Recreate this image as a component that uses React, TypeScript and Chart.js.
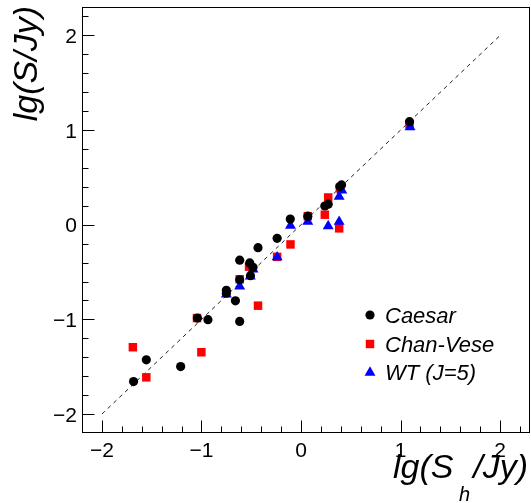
import React, { useEffect, useRef } from "react";
import { Chart, registerables } from "chart.js";

Chart.register(...registerables);

const caesarX = [-1.682, -1.554, -1.209, -1.041, -0.935, -0.616, -0.659, -0.75, -0.75, -0.616, -0.508, -0.616, -0.515, -0.482, -0.432, -0.24, -0.108, 0.068, 0.239, 0.273, 0.39, 0.407, 1.09];
const caesarY = [-1.657, -1.427, -1.498, -0.986, -1.003, -1.021, -0.804, -0.692, -0.724, -0.581, -0.539, -0.374, -0.403, -0.449, -0.242, -0.144, 0.06, 0.09, 0.198, 0.217, 0.403, 0.421, 1.089];

const chanX = [-1.689, -1.554, -1.001, -1.045, -0.432, -0.616, -0.522, -0.24, -0.106, 0.068, 0.239, 0.273, 0.383, 0.39, 1.09];
const chanY = [-1.294, -1.612, -1.347, -0.986, -0.855, -0.576, -0.443, -0.339, -0.208, 0.09, 0.106, 0.288, -0.038, 0.386, 1.063];

const wtX = [-0.75, -0.616, -0.51, -0.482, -0.24, -0.106, 0.068, 0.273, 0.383, 0.383, 0.41, 1.095];
const wtY = [-0.735, -0.65, -0.544, -0.47, -0.343, -0.008, 0.034, -0.014, 0.032, 0.297, 0.363, 1.031];

const diagX = [-2, 2];
const diagY = [-2, 2];

const xTickValues = [-2, -1, 0, 1, 2];
const yTickValues = [-2, -1, 0, 1, 2];
const tickText = (v: number) => (v < 0 ? "\u2212" + Math.abs(v) : String(v));

const legendItems = ["Caesar", "Chan-Vese", "WT (J=5)"];

const zip = (xs: number[], ys: number[]) => xs.map((x, i) => ({ x, y: ys[i] }));

const FONT = '"Liberation Sans", Arial, Helvetica, sans-serif';

function drawMarker(ctx: CanvasRenderingContext2D, kind: string, x: number, y: number, color: string) {
  ctx.fillStyle = color;
  ctx.beginPath();
  if (kind === "circle") {
    ctx.arc(x, y, 4.6, 0, Math.PI * 2);
  } else if (kind === "rect") {
    const s = 6 / Math.SQRT2;
    ctx.rect(x - s, y - s, 2 * s, 2 * s);
  } else {
    const r = 6.3;
    ctx.moveTo(x, y - r);
    ctx.lineTo(x + r * Math.sin((2 * Math.PI) / 3), y + r / 2);
    ctx.lineTo(x - r * Math.sin((2 * Math.PI) / 3), y + r / 2);
    ctx.closePath();
  }
  ctx.fill();
}

const decorPlugin = {
  id: "rootDecor",
  afterDraw(chart: any) {
    const ctx: CanvasRenderingContext2D = chart.ctx;
    const { left, right, top, bottom } = chart.chartArea;
    const xs = chart.scales.x;
    const ys = chart.scales.y;
    ctx.save();
    ctx.strokeStyle = "#000";
    ctx.lineWidth = 1;
    ctx.strokeRect(left + 0.5, top + 0.5, right - left - 1, bottom - top - 1);

    ctx.beginPath();
    for (let k = -11; k <= 11; k++) {
      const v = k * 0.2;
      const major = k % 5 === 0;
      const len = major ? 12 : 6;
      if (v > xs.min + 1e-6 && v < xs.max - 1e-6) {
        const px = Math.round(xs.getPixelForValue(v)) + 0.5;
        ctx.moveTo(px, bottom - 0.5);
        ctx.lineTo(px, bottom - 0.5 - len);
      }
      if (v > ys.min + 1e-6 && v < ys.max - 1e-6) {
        const py = Math.round(ys.getPixelForValue(v)) + 0.5;
        ctx.moveTo(left + 0.5, py);
        ctx.lineTo(left + 0.5 + len, py);
      }
    }
    ctx.stroke();

    ctx.fillStyle = "#000";
    ctx.font = `21px ${FONT}`;
    ctx.textBaseline = "alphabetic";
    ctx.textAlign = "center";
    xTickValues.forEach((v) => {
      ctx.fillText(tickText(v), xs.getPixelForValue(v), 457);
    });
    ctx.textAlign = "right";
    yTickValues.forEach((v) => {
      ctx.fillText(tickText(v), 77, ys.getPixelForValue(v) + 7.5);
    });

    // x axis title
    ctx.font = `italic 34px ${FONT}`;
    ctx.textAlign = "left";
    ctx.fillText("lg(S", 393, 478);
    ctx.textAlign = "right";
    ctx.fillText("/Jy)", 528, 478);
    ctx.font = `italic 20px ${FONT}`;
    ctx.textAlign = "left";
    ctx.fillText("h", 459, 501);

    // y axis title
    ctx.save();
    ctx.translate(37, 6);
    ctx.rotate(-Math.PI / 2);
    ctx.font = `italic 34px ${FONT}`;
    ctx.textAlign = "right";
    ctx.fillText("lg(S/Jy)", 0, 0);
    ctx.restore();

    // legend
    const kinds = ["circle", "rect", "triangle"];
    const colors = ["#000000", "#ff0000", "#0000ff"];
    const rowsY = [315, 344, 372.5];
    ctx.font = `italic 22px ${FONT}`;
    ctx.textAlign = "left";
    legendItems.forEach((label, i) => {
      drawMarker(ctx, kinds[i], 370, rowsY[i], colors[i]);
      ctx.fillStyle = "#000";
      ctx.fillText(label, 385, rowsY[i] + 7.5);
    });
    ctx.restore();
  },
};

export default function App() {
  const ref = useRef<HTMLCanvasElement | null>(null);
  useEffect(() => {
    if (!ref.current) return;
    const chart = new Chart(ref.current, {
      type: "scatter",
      data: {
        datasets: [
          {
            label: "Caesar",
            data: zip(caesarX, caesarY),
            pointStyle: "circle",
            pointRadius: 4.6,
            pointBorderWidth: 0,
            backgroundColor: "#000000",
            borderColor: "#000000",
            order: 1,
          },
          {
            label: "WT (J=5)",
            data: zip(wtX, wtY),
            pointStyle: "triangle",
            pointRadius: 6.3,
            pointBorderWidth: 0,
            backgroundColor: "#0000ff",
            borderColor: "#0000ff",
            order: 2,
          },
          {
            label: "Chan-Vese",
            data: zip(chanX, chanY),
            pointStyle: "rect",
            pointRadius: 6,
            pointBorderWidth: 0,
            backgroundColor: "#ff0000",
            borderColor: "#ff0000",
            order: 3,
          },
          {
            type: "line",
            label: "diag",
            data: zip(diagX, diagY),
            borderColor: "#222",
            borderWidth: 1,
            borderDash: [4, 4],
            pointRadius: 0,
            showLine: true,
            fill: false,
            order: 4,
          } as any,
        ],
      },
      options: {
        animation: false,
        responsive: false,
        devicePixelRatio: 1,
        layout: { autoPadding: false, padding: { left: 82, top: 7, right: 1, bottom: 70 } },
        plugins: { legend: { display: false }, tooltip: { enabled: false } },
        scales: {
          x: { type: "linear", min: -2.2, max: 2.3, display: false },
          y: { type: "linear", min: -2.2, max: 2.3, display: false },
        },
      },
      plugins: [decorPlugin],
    });
    return () => chart.destroy();
  }, []);
  return (
    <div style={{ position: "fixed", left: 0, top: 0, width: 531, height: 503, background: "#fff" }}>
      <canvas ref={ref} width={531} height={503} style={{ width: 531, height: 503, display: "block" }} />
    </div>
  );
}
